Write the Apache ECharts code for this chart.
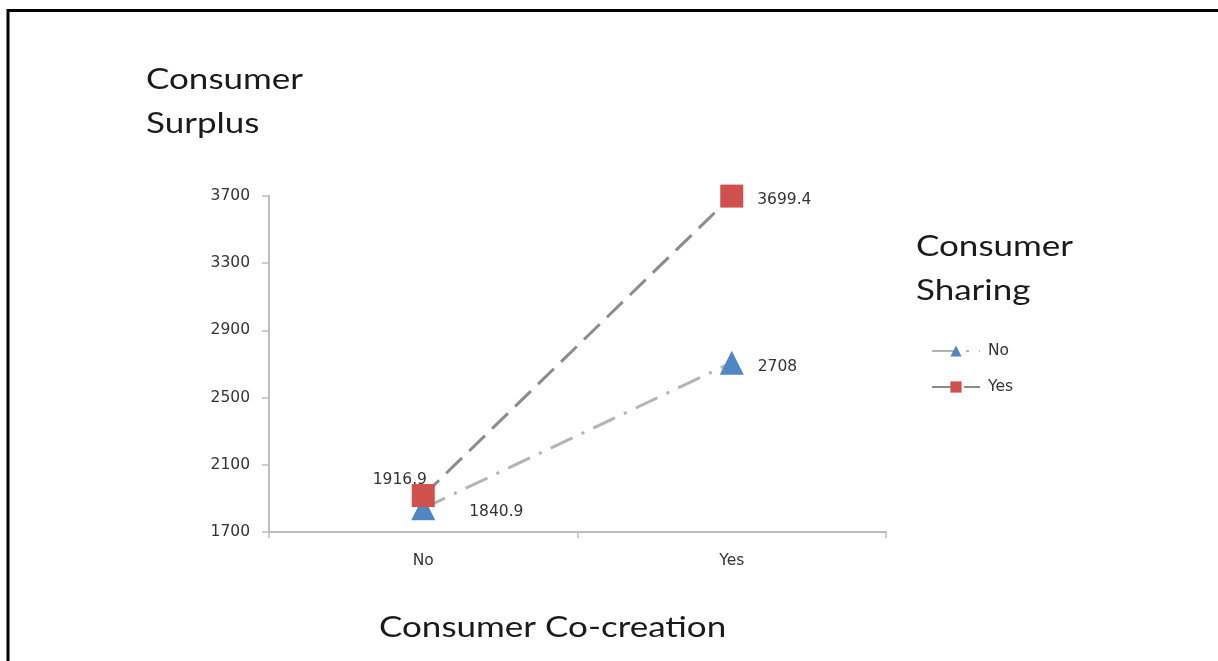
<!DOCTYPE html>
<html>
<head>
<meta charset="utf-8">
<script src="https://cdn.jsdelivr.net/npm/echarts@6/dist/echarts.min.js"></script>
<style>
  html, body { margin: 0; padding: 0; background: #fff; }
  #chart { width: 1218px; height: 661px; }
</style>
</head>
<body>
<div id="chart"></div>
<script>
// Consumer co-creation levels on the x axis
const categories = ['No', 'Yes'];
// Consumer surplus, one series per consumer-sharing level
const sharingNo = [1840.9, 2708];
const sharingYes = [1916.9, 3699.4];
// y-axis tick values
const yTicks = [1700, 2100, 2500, 2900, 3300, 3700];

const smallFont = 'DejaVu Sans';
const bigFont = 'Lato';
const smallSize = 15.5;

// Large heading text, slightly compressed vertically
function heading(text, x, y) {
  return {
    type: 'text',
    x: x, y: y,
    scaleY: 0.84,
    silent: true,
    style: {
      text: text, x: 0, y: 0,
      font: '35px ' + bigFont,
      fill: '#1a1a1a',
      verticalAlign: 'middle'
    }
  };
}

const chart = echarts.init(document.getElementById('chart'), null, { renderer: 'canvas' });

chart.setOption({
  backgroundColor: '#ffffff',
  animation: false,
  graphic: [
    {
      type: 'rect',
      shape: { x: 8, y: 10.5, width: 1400, height: 1000 },
      style: { fill: 'none', stroke: '#000', lineWidth: 3 },
      silent: true
    },
    heading('Consumer', 146, 80),
    heading('Surplus', 146, 124),
    heading('Consumer', 916, 247),
    heading('Sharing', 916, 291),
    heading('Consumer Co-creation', 379, 628)
  ],
  legend: {
    orient: 'vertical',
    left: 926, top: 337,
    itemWidth: 48, itemHeight: 14, itemGap: 18,
    textStyle: { fontFamily: smallFont, fontSize: smallSize, color: '#333', lineHeight: 18, padding: [0, 0, 0, 3] },
    data: ['No', 'Yes']
  },
  grid: { left: 269, right: 332, top: 196, bottom: 129, containLabel: false },
  xAxis: {
    type: 'category',
    data: categories,
    boundaryGap: true,
    axisLine: { lineStyle: { color: '#bdbdbd', width: 2 } },
    axisTick: { show: true, length: 6, lineStyle: { color: '#bdbdbd', width: 1.5 } },
    axisLabel: { fontFamily: smallFont, fontSize: smallSize, color: '#333', margin: 21 }
  },
  yAxis: {
    type: 'value',
    min: 1700, max: 3700,
    splitLine: { show: false },
    axisLine: { show: true, lineStyle: { color: '#bdbdbd', width: 2 } },
    axisTick: { show: true, length: 7, lineStyle: { color: '#bdbdbd', width: 1.5 }, customValues: yTicks },
    axisLabel: {
      fontFamily: smallFont, fontSize: smallSize, color: '#333', margin: 19,
      customValues: yTicks,
      formatter: v => String(v)
    }
  },
  series: [
    {
      name: 'No',
      type: 'line',
      data: sharingNo,
      symbol: 'triangle',
      symbolSize: 24,
      itemStyle: { color: '#4f86c6' },
      lineStyle: { color: '#b3b3b3', width: 3, type: [24, 10, 3, 10] },
      label: {
        show: true, position: 'right', distance: 14,
        fontFamily: smallFont, fontSize: smallSize, color: '#333',
        formatter: p => String(p.value)
      },
      labelLayout: p => p.dataIndex === 0 ? { dx: 20, dy: 4 } : { dy: 4 },
      z: 2
    },
    {
      name: 'Yes',
      type: 'line',
      data: sharingYes,
      symbol: 'rect',
      symbolSize: 23,
      itemStyle: { color: '#d0504d' },
      lineStyle: { color: '#8c8c8c', width: 3, type: [22, 10] },
      label: {
        show: true, position: 'right', distance: 14,
        fontFamily: smallFont, fontSize: smallSize, color: '#333',
        formatter: p => String(p.value)
      },
      labelLayout: p => p.dataIndex === 0 ? { dx: -76, dy: -16 } : { dy: 4 },
      z: 3
    }
  ]
});
</script>
</body>
</html>
